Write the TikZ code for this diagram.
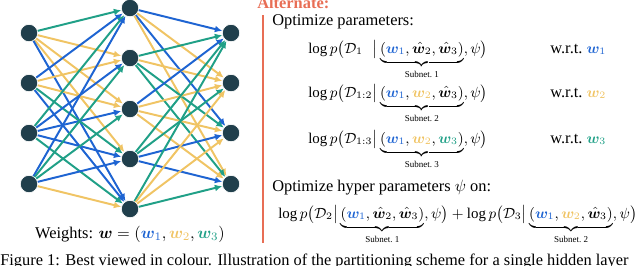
\documentclass[tikz,border=0pt]{standalone}
\usepackage{amsmath,bm}
\usepackage{fontspec}
\setmainfont{Liberation Serif}
\usetikzlibrary{arrows.meta}
\definecolor{wb}{HTML}{1E64D2}
\definecolor{wy}{HTML}{F0C464}
\definecolor{wg}{HTML}{20A087}
\definecolor{nodec}{HTML}{203F4C}
\definecolor{altc}{HTML}{E86E55}
\newcommand{\wa}{\textcolor{wb}{\bm{w}_1}}
\newcommand{\wb}{\textcolor{wy}{\bm{w}_2}}
\newcommand{\wc}{\textcolor{wg}{\bm{w}_3}}
\newcommand{\hb}{\hat{\bm{w}}_2}
\newcommand{\hc}{\hat{\bm{w}}_3}
\newcommand{\sublab}[1]{\text{\fontsize{5.5}{6}\selectfont Subnet.\ #1}}
\begin{document}
\begin{tikzpicture}[x=0.61pt,y=-0.61pt,
  neuron/.style={circle,fill=nodec,draw=white,line width=0.4pt,minimum size=10.6pt,inner sep=0pt},
  edge/.style={line width=1.2pt,-{Latex[length=4.5pt,width=4.2pt]}},
  txt/.style={anchor=base west,inner sep=0pt,font=\fontsize{10}{12}\selectfont},
  mth/.style={anchor=base west,inner sep=0pt,font=\fontsize{9.1}{11}\selectfont}]
\useasboundingbox (0,0) rectangle (640,265);
\clip (0,0) rectangle (640,265);
% neurons
\foreach \n/\y in {1/33,2/83,3/133,4/184}{
  \node[neuron] (I\n) at (29,\y) {};
  \node[neuron] (O\n) at (231,\y) {};
}
\foreach \n/\y in {1/8,2/58,3/109,4/159,5/209}{
  \node[neuron] (H\n) at (130,\y) {};
}
% edges
\foreach \a/\b/\c in {I1/H1/wg,I1/H2/wy,I1/H3/wy,I1/H4/wy,I1/H5/wb,
                      I2/H1/wb,I2/H2/wy,I2/H3/wy,I2/H4/wg,I2/H5/wb,
                      I3/H1/wg,I3/H2/wb,I3/H3/wb,I3/H4/wb,I3/H5/wg,
                      I4/H1/wb,I4/H2/wg,I4/H3/wg,I4/H4/wb,I4/H5/wy,
                      H1/O1/wb,H1/O2/wy,H1/O3/wb,H1/O4/wy,
                      H2/O1/wg,H2/O2/wy,H2/O3/wg,H2/O4/wg,
                      H3/O1/wb,H3/O2/wy,H3/O3/wy,H3/O4/wy,
                      H4/O1/wg,H4/O2/wg,H4/O3/wb,H4/O4/wb,
                      H5/O1/wg,H5/O2/wy,H5/O3/wy,H5/O4/wg}{
  \draw[edge,\c] (\a) -- (\b);
}
\node[anchor=base,inner sep=0pt,font=\fontsize{10}{12}\selectfont] (wlab) at (130,238)
  {Weights: $\bm{w}=(\wa,\wb,\wc)$};
% right panel
\node[txt,text=altc,font=\fontsize{10}{12}\selectfont\bfseries] (alt) at (257,8.5) {Alternate:};
\coordinate (bartop) at (263,15);
\coordinate (barbot) at (263,243);
\draw[altc,line width=1.5pt] (bartop) -- (barbot);
\node[txt] (op) at (272,25) {Optimize parameters:};
\node[mth] (r1) at (308,53) {$\log p\big(\mathcal{D}_{1\phantom{:2}}\big|\underbrace{(\wa,\hb,\hc)}_{\sublab{1}},\psi\big)$};
\node[txt] (t1) at (550,53) {w.r.t.\ \fontsize{9.1}{11}\selectfont$\wa$};
\node[mth] (r2) at (308,97) {$\log p\big(\mathcal{D}_{1:2}\big|\underbrace{(\wa,\wb,\hc)}_{\sublab{2}},\psi\big)$};
\node[txt] (t2) at (550,97) {w.r.t.\ \fontsize{9.1}{11}\selectfont$\wb$};
\node[mth] (r3) at (308,143) {$\log p\big(\mathcal{D}_{1:3}\big|\underbrace{(\wa,\wb,\wc)}_{\sublab{3}},\psi\big)$};
\node[txt] (t3) at (550,143) {w.r.t.\ \fontsize{9.1}{11}\selectfont$\wc$};
\node[txt] (oh) at (272,191) {Optimize hyper parameters $\psi$ on:};
\node[mth] (r4) at (278,218) {$\log p\big(\mathcal{D}_{2}\big|\underbrace{(\wa,\hb,\hc)}_{\sublab{1}},\psi\big)+\log p\big(\mathcal{D}_{3}\big|\underbrace{(\wa,\wb,\hc)}_{\sublab{2}},\psi\big)$};
% caption (cut off at the bottom)
\node[txt] (cap) at (0,265.5) {Figure 1: Best viewed in colour. Illustration of the partitioning scheme for a single hidden layer};
\end{tikzpicture}
\end{document}
